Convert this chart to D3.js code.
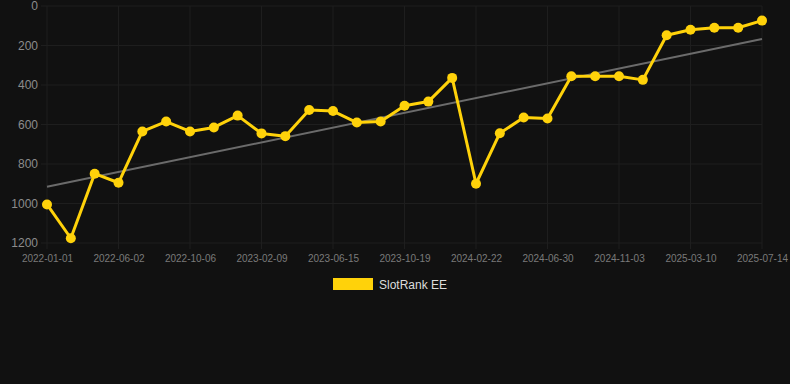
<!DOCTYPE html>
<html>
<head>
<meta charset="utf-8">
<script src="https://cdn.jsdelivr.net/npm/d3@7"></script>
<style>
  html, body { margin: 0; padding: 0; background: #111111; }
  #chart { width: 790px; height: 384px; }
  text { font-family: Arial, "Liberation Sans", sans-serif; }
</style>
</head>
<body>
<div id="chart"></div>
<script>
// rank per date (lower = better, axis reversed)
const dates = [
  '2022-01-01', '2022-02-20', '2022-04-12', '2022-06-02', '2022-07-14', '2022-08-25',
  '2022-10-06', '2022-11-17', '2022-12-29', '2023-02-09', '2023-03-23', '2023-05-04',
  '2023-06-15', '2023-07-27', '2023-09-07', '2023-10-19', '2023-11-30', '2024-01-11',
  '2024-02-22', '2024-04-05', '2024-05-18', '2024-06-30', '2024-08-11', '2024-09-22',
  '2024-11-03', '2024-12-15', '2025-01-27', '2025-03-10', '2025-04-21', '2025-06-02',
  '2025-07-14',
];
const ranks = [
  1005, 1176, 849, 895, 635, 585,
  635, 615, 555, 645, 659, 527,
  532, 590, 585, 505, 484, 364,
  900, 644, 565, 570, 356, 356,
  356, 374, 148, 120, 110, 110,
  74,
];
const trendValues = [915, 167]; // trend line, first and last date
const yTicks = [0, 200, 400, 600, 800, 1000, 1200];
const xTickLabels = [
  '2022-01-01', '2022-06-02', '2022-10-06', '2023-02-09', '2023-06-15', '2023-10-19',
  '2024-02-22', '2024-06-30', '2024-11-03', '2025-03-10', '2025-07-14',
];
const seriesName = 'SlotRank EE';

const W = 790,
  H = 384;
const margin = { top: 6, right: 28, bottom: 141, left: 47 };

const svg = d3
  .select('#chart')
  .append('svg')
  .attr('width', W)
  .attr('height', H);

svg.append('rect').attr('width', W).attr('height', H).attr('fill', '#111111');

const x = d3
  .scalePoint()
  .domain(dates)
  .range([margin.left, W - margin.right]);

const y = d3
  .scaleLinear()
  .domain([0, 1200])
  .range([margin.top, H - margin.bottom]);

// grid
const grid = svg.append('g').attr('class', 'grid');

grid
  .selectAll('line.h')
  .data(yTicks)
  .enter()
  .append('line')
  .attr('class', 'h')
  .attr('x1', margin.left - 6)
  .attr('x2', W - margin.right)
  .attr('y1', (d) => y(d))
  .attr('y2', (d) => y(d))
  .attr('stroke', '#1e1e1e')
  .attr('stroke-width', 1);

grid
  .selectAll('line.v')
  .data(xTickLabels)
  .enter()
  .append('line')
  .attr('class', 'v')
  .attr('x1', (d) => x(d))
  .attr('x2', (d) => x(d))
  .attr('y1', margin.top)
  .attr('y2', H - margin.bottom + 6)
  .attr('stroke', '#1e1e1e')
  .attr('stroke-width', 1);

// y axis labels
const yAxis = svg
  .append('g')
  .attr('transform', `translate(${margin.left - 9},0)`)
  .call(d3.axisLeft(y).tickValues(yTicks).tickSize(0).tickFormat(d3.format('d')));
yAxis.select('.domain').remove();
yAxis
  .selectAll('text')
  .attr('fill', '#8c8c8c')
  .attr('font-size', '12px')
  .attr('x', 0);

// x axis labels
const xAxis = svg
  .append('g')
  .attr('transform', `translate(0,${H - margin.bottom + 12})`)
  .call(d3.axisBottom(x).tickValues(xTickLabels).tickSize(0));
xAxis.select('.domain').remove();
xAxis
  .selectAll('text')
  .attr('fill', '#7a7a7a')
  .attr('font-size', '10px')
  .attr('dy', '0.71em')
  .attr('y', 0);

// trend line
svg
  .append('line')
  .attr('x1', x(dates[0]))
  .attr('x2', x(dates[dates.length - 1]))
  .attr('y1', y(trendValues[0]))
  .attr('y2', y(trendValues[1]))
  .attr('stroke', '#6b6b6b')
  .attr('stroke-width', 2);

// series
const data = dates.map((d, i) => ({ date: d, rank: ranks[i] }));

svg
  .append('path')
  .datum(data)
  .attr('fill', 'none')
  .attr('stroke', '#ffd20a')
  .attr('stroke-width', 3)
  .attr('stroke-linejoin', 'round')
  .attr(
    'd',
    d3
      .line()
      .x((d) => x(d.date))
      .y((d) => y(d.rank))
  );

svg
  .selectAll('circle.pt')
  .data(data)
  .enter()
  .append('circle')
  .attr('class', 'pt')
  .attr('cx', (d) => x(d.date))
  .attr('cy', (d) => y(d.rank))
  .attr('r', 5)
  .attr('fill', '#ffd20a');

// legend
const legend = svg.append('g').attr('transform', 'translate(333,278)');
legend
  .append('rect')
  .attr('width', 40)
  .attr('height', 12)
  .attr('fill', '#ffd20a');
legend
  .append('text')
  .attr('x', 46)
  .attr('y', 10.5)
  .attr('fill', '#dddddd')
  .attr('font-size', '12px')
  .text(seriesName);
</script>
</body>
</html>
